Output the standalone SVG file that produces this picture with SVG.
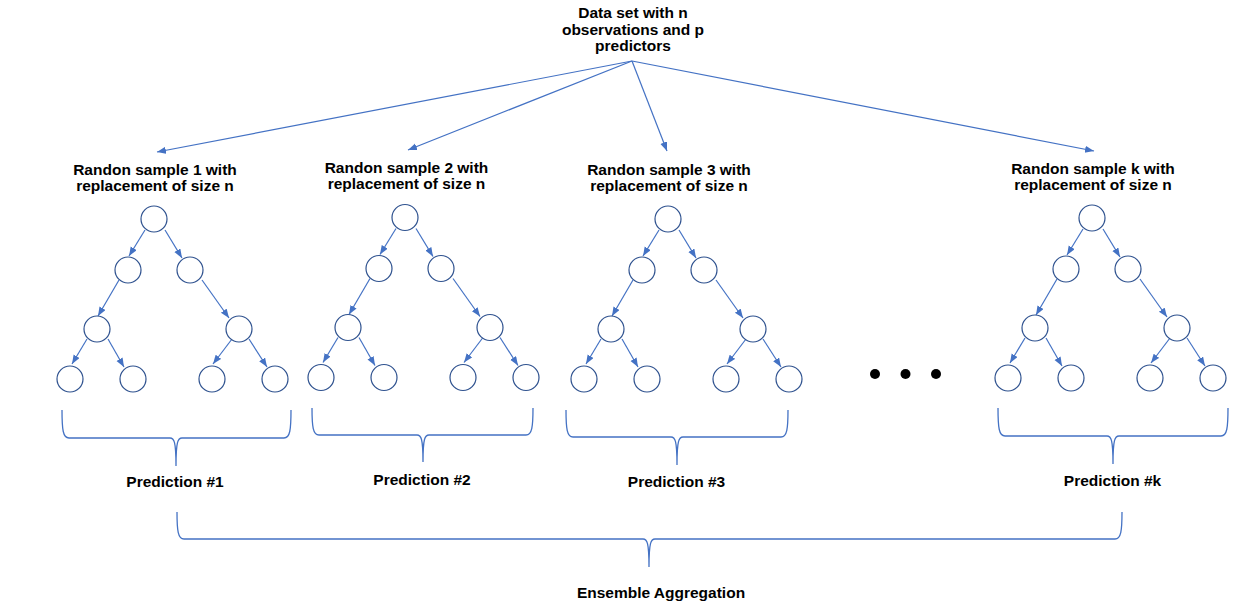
<svg xmlns="http://www.w3.org/2000/svg" width="1249" height="610" viewBox="0 0 1249 610">
<style>
.t{font-family:"Liberation Sans",Arial,sans-serif;font-weight:bold;font-size:15.5px;fill:#000;text-anchor:middle}
.n{fill:#fff;stroke:#2F528F;stroke-width:1.2}
.e{stroke:#4472C4;stroke-width:1.2;fill:none;marker-end:url(#ah)}
.b{stroke:#4472C4;stroke-width:1.3;fill:none}
.dot{fill:#000}
</style>
<defs>
<marker id="ah" markerUnits="userSpaceOnUse" markerWidth="10" markerHeight="8" refX="9" refY="3.5" orient="auto">
<path d="M0,0 L9,3.5 L0,7 z" fill="#4472C4"/>
</marker>
<g id="edges">
<line x1="-9" y1="11" x2="-25" y2="37"/>
<line x1="11" y1="11" x2="28" y2="39"/>
<line x1="-35" y1="61" x2="-56" y2="97"/>
<line x1="48" y1="61" x2="75" y2="99"/>
<line x1="-67" y1="120" x2="-82" y2="145"/>
<line x1="-46" y1="120" x2="-30" y2="148"/>
<line x1="78" y1="120" x2="59" y2="145"/>
<line x1="95" y1="120" x2="113" y2="148"/>
</g>
</defs>
<rect width="1249" height="610" fill="#fff"/>

<g id="connectors">
<line class="e" x1="632" y1="61" x2="157" y2="152"/>
<line class="e" x1="632" y1="61" x2="408" y2="150"/>
<line class="e" x1="632" y1="61" x2="667" y2="151"/>
<line class="e" x1="632" y1="61" x2="1094" y2="151"/>
<g class="e" transform="translate(154,219)"><use href="#edges"/></g>
<g class="e" transform="translate(405,217.5)"><use href="#edges"/></g>
<g class="e" transform="translate(668,219)"><use href="#edges"/></g>
<g class="e" transform="translate(1092,218)"><use href="#edges"/></g>
</g>

<g id="title">
<text class="t" x="633" y="18">Data set with n</text>
<text class="t" x="633" y="34.5">observations and p</text>
<text class="t" x="633" y="51">predictors</text>
</g>

<g id="label1"><text class="t" x="155" y="174.5">Randon sample 1 with</text><text class="t" x="155" y="191">replacement of size n</text></g>
<g id="label2"><text class="t" x="406.5" y="172.5">Randon sample 2 with</text><text class="t" x="406.5" y="189">replacement of size n</text></g>
<g id="label3"><text class="t" x="669" y="174.5">Randon sample 3 with</text><text class="t" x="669" y="191">replacement of size n</text></g>
<g id="labelk"><text class="t" x="1093" y="173.5">Randon sample k with</text><text class="t" x="1093" y="190">replacement of size n</text></g>

<g id="tree1" transform="translate(154,219)">
<g id="t1n0"><circle class="n" cx="0" cy="0" r="13"/></g>
<g id="t1n1"><circle class="n" cx="-26" cy="51" r="13"/></g>
<g id="t1n2"><circle class="n" cx="36" cy="51" r="13"/></g>
<g id="t1n3"><circle class="n" cx="-57" cy="110" r="13"/></g>
<g id="t1n4"><circle class="n" cx="85" cy="110" r="13"/></g>
<g id="t1n5"><circle class="n" cx="-84" cy="160" r="13"/></g>
<g id="t1n6"><circle class="n" cx="-21" cy="160" r="13"/></g>
<g id="t1n7"><circle class="n" cx="58" cy="160" r="13"/></g>
<g id="t1n8"><circle class="n" cx="121" cy="160" r="13"/></g>
</g>
<g id="tree2" transform="translate(405,217.5)">
<g id="t2n0"><circle class="n" cx="0" cy="0" r="13"/></g>
<g id="t2n1"><circle class="n" cx="-26" cy="51" r="13"/></g>
<g id="t2n2"><circle class="n" cx="36" cy="51" r="13"/></g>
<g id="t2n3"><circle class="n" cx="-57" cy="110" r="13"/></g>
<g id="t2n4"><circle class="n" cx="85" cy="110" r="13"/></g>
<g id="t2n5"><circle class="n" cx="-84" cy="160" r="13"/></g>
<g id="t2n6"><circle class="n" cx="-21" cy="160" r="13"/></g>
<g id="t2n7"><circle class="n" cx="58" cy="160" r="13"/></g>
<g id="t2n8"><circle class="n" cx="121" cy="160" r="13"/></g>
</g>
<g id="tree3" transform="translate(668,219)">
<g id="t3n0"><circle class="n" cx="0" cy="0" r="13"/></g>
<g id="t3n1"><circle class="n" cx="-26" cy="51" r="13"/></g>
<g id="t3n2"><circle class="n" cx="36" cy="51" r="13"/></g>
<g id="t3n3"><circle class="n" cx="-57" cy="110" r="13"/></g>
<g id="t3n4"><circle class="n" cx="85" cy="110" r="13"/></g>
<g id="t3n5"><circle class="n" cx="-84" cy="160" r="13"/></g>
<g id="t3n6"><circle class="n" cx="-21" cy="160" r="13"/></g>
<g id="t3n7"><circle class="n" cx="58" cy="160" r="13"/></g>
<g id="t3n8"><circle class="n" cx="121" cy="160" r="13"/></g>
</g>
<g id="treek" transform="translate(1092,218)">
<g id="tkn0"><circle class="n" cx="0" cy="0" r="13"/></g>
<g id="tkn1"><circle class="n" cx="-26" cy="51" r="13"/></g>
<g id="tkn2"><circle class="n" cx="36" cy="51" r="13"/></g>
<g id="tkn3"><circle class="n" cx="-57" cy="110" r="13"/></g>
<g id="tkn4"><circle class="n" cx="85" cy="110" r="13"/></g>
<g id="tkn5"><circle class="n" cx="-84" cy="160" r="13"/></g>
<g id="tkn6"><circle class="n" cx="-21" cy="160" r="13"/></g>
<g id="tkn7"><circle class="n" cx="58" cy="160" r="13"/></g>
<g id="tkn8"><circle class="n" cx="121" cy="160" r="13"/></g>
</g>

<g id="ellipsis">
<circle class="dot" cx="875" cy="374" r="5"/>
<circle class="dot" cx="905.5" cy="374" r="5"/>
<circle class="dot" cx="936" cy="374" r="5"/>
</g>

<g id="braces">
<path class="b" d="M62,410 C62,430 63,438 69,438 L170,438 C174,438 176,441 176,466 C176,441 178,438 182,438 L284,438 C290,438 291,430 291,410"/>
<path class="b" d="M312,408 C312,427 313,435 319,435 L417,435 C421,435 423,438 423,462 C423,438 425,435 429,435 L526,435 C532,435 533,427 533,408"/>
<path class="b" d="M566,410 C566,429 567,437 573,437 L671,437 C675,437 677,440 677,465 C677,440 679,437 683,437 L781,437 C787,437 788,429 788,410"/>
<path class="b" d="M998,408 C998,428 999,436 1005,436 L1107,436 C1111,436 1113,439 1113,464 C1113,439 1115,436 1119,436 L1221,436 C1227,436 1228,428 1228,408"/>
<path class="b" d="M177,512 C177,531 178,539 184,539 L643,539 C647,539 649,542 649,567 C649,542 651,539 655,539 L1115,539 C1121,539 1122,531 1122,512"/>
</g>

<g id="pred1"><text class="t" x="175" y="487">Prediction #1</text></g>
<g id="pred2"><text class="t" x="422" y="484.5">Prediction #2</text></g>
<g id="pred3"><text class="t" x="676.5" y="487">Prediction #3</text></g>
<g id="predk"><text class="t" x="1112.5" y="486">Prediction #k</text></g>
<g id="ensemble"><text class="t" x="661" y="598">Ensemble Aggregation</text></g>
</svg>
